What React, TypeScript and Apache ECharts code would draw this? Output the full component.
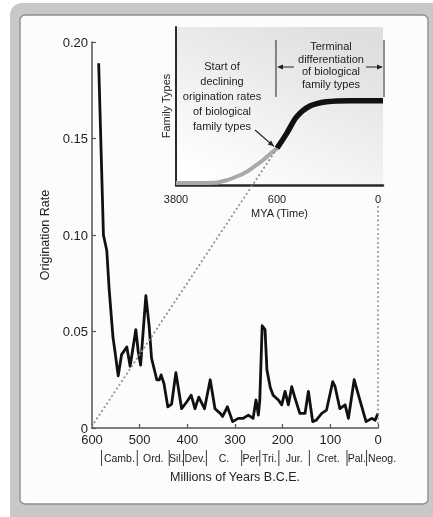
import React, { useEffect, useRef } from "react";
import * as echarts from "echarts";

// ---- Main chart data (origination rate vs. millions of years B.C.E.) ----
const rateYears = [
  586, 576, 569, 564, 556, 552, 545, 538, 527, 520, 508, 503, 498, 487, 480, 475,
  464, 459, 455, 449, 441, 433, 424, 412, 401, 392, 384, 376, 364, 352, 342, 331,
  326, 316, 305, 293, 283, 272, 262, 256, 251, 248, 243, 237, 233, 226, 220, 209,
  202, 195, 188, 181, 174, 164, 153, 146, 137, 130, 118, 108, 95, 90, 80, 69, 62,
  50, 38, 25, 13, 6, 0,
];
const rateValues = [
  0.189, 0.1, 0.092, 0.072, 0.047, 0.04, 0.027, 0.038, 0.042, 0.032, 0.051, 0.0395,
  0.0326, 0.0686, 0.0525, 0.036, 0.025, 0.0249, 0.0275, 0.023, 0.011, 0.0124, 0.0287,
  0.01, 0.0136, 0.017, 0.01, 0.016, 0.01, 0.025, 0.01, 0.0076, 0.006, 0.011, 0.0033,
  0.005, 0.005, 0.0067, 0.005, 0.0145, 0.0067, 0.0145, 0.053, 0.051, 0.03, 0.021,
  0.017, 0.0145, 0.012, 0.019, 0.012, 0.0214, 0.0154, 0.0076, 0.0076, 0.019, 0.0033,
  0.004, 0.0076, 0.0093, 0.024, 0.0214, 0.01, 0.012, 0.005, 0.025, 0.0145, 0.0033,
  0.005, 0.004, 0.0076,
];
const yTicks = [0, 0.05, 0.1, 0.15, 0.2];
const xTicks = [600, 500, 400, 300, 200, 100, 0];

// ---- Geological periods (start boundaries, Ma) ----
const periodNames = ["Camb.", "Ord.", "Sil.", "Dev.", "C.", "Per", "Tri.", "Jur.", "Cret.", "Pal.", "Neog."];
const periodStarts = [580, 505, 438, 408, 360, 286, 248, 208, 144, 65, 24];

// ---- Inset (schematic family-types curve) ----
const insetTickMya = [3800, 600, 0];
const insetEarlyMya = [3800, 2600, 2200, 1800, 1560, 1300, 1035, 800, 600];
const insetEarlyLevel = [0.012, 0.014, 0.03, 0.06, 0.084, 0.12, 0.158, 0.2, 0.232];
const insetLateMya = [600, 542, 483, 404, 305, 166, 0, -30];
const insetLateLevel = [0.232, 0.327, 0.432, 0.5, 0.527, 0.534, 0.534, 0.534];

const FONT = "'Liberation Sans', Arial, Helvetica, sans-serif";
const TEXT = "#222";

const MAIN = { left: 92, top: 42, width: 286, height: 386 };
const INSET = { left: 176, top: 27, width: 207, height: 158 };

// Piecewise (broken) time scale of the inset: 3800..600 and 600..0 get equal room
const myaToU = (t: number) => (t >= 600 ? (3800 - t) / 3200 : 1 + (600 - t) / 600);

function arrowHead(tx: number, ty: number, fx: number, fy: number, len = 6, half = 2.6) {
  const dx = tx - fx;
  const dy = ty - fy;
  const d = Math.hypot(dx, dy) || 1;
  const ux = dx / d;
  const uy = dy / d;
  const bx = tx - ux * len;
  const by = ty - uy * len;
  return [
    [tx, ty],
    [bx - uy * half, by + ux * half],
    [bx + uy * half, by - ux * half],
  ];
}

export default function App() {
  const ref = useRef<HTMLDivElement>(null);

  useEffect(() => {
    const chart = echarts.init(ref.current!, null, { renderer: "svg" });

    const option: any = {
      animation: false,
      backgroundColor: "transparent",
      grid: [
        { ...MAIN, containLabel: false },
        { ...INSET, containLabel: false },
      ],
      xAxis: [
        {
          gridIndex: 0,
          type: "value",
          position: "bottom",
          min: 0,
          max: 600,
          interval: 100,
          inverse: true,
          splitLine: { show: false },
          axisLine: { onZero: false, lineStyle: { color: "#555", width: 1.5 } },
          axisTick: { inside: true, length: 4, lineStyle: { color: "#555", width: 1.2 } },
          axisLabel: {
            color: TEXT,
            fontSize: 13,
            fontFamily: FONT,
            margin: 5,
            formatter: (v: number) => (xTicks.includes(v) ? String(v) : ""),
          },
          name: "Millions of Years B.C.E.",
          nameLocation: "middle",
          nameGap: 42,
          nameTextStyle: { color: TEXT, fontSize: 12.5, fontFamily: FONT },
        },
        {
          gridIndex: 1,
          type: "value",
          position: "bottom",
          min: 0,
          max: myaToU(-30),
          interval: 1,
          splitLine: { show: false },
          axisTick: { show: false },
          axisLine: { onZero: false, lineStyle: { color: "#2a2a2a", width: 2.5 } },
          axisLabel: {
            color: TEXT,
            fontSize: 11,
            fontFamily: FONT,
            margin: 8,
            showMaxLabel: false,
            formatter: (v: number) => {
              const i = insetTickMya.findIndex((t) => Math.abs(myaToU(t) - v) < 1e-6);
              return i >= 0 ? String(insetTickMya[i]) : "";
            },
          },
          name: "MYA (Time)",
          nameLocation: "middle",
          nameGap: 22,
          nameTextStyle: { color: TEXT, fontSize: 11, fontFamily: FONT },
        },
      ],
      yAxis: [
        {
          gridIndex: 0,
          type: "value",
          position: "left",
          min: 0,
          max: 0.2,
          interval: 0.05,
          splitLine: { show: false },
          axisLine: { show: true, onZero: false, lineStyle: { color: "#555", width: 1.5 } },
          axisTick: { show: true, inside: true, length: 4, lineStyle: { color: "#555", width: 1.2 } },
          axisLabel: {
            color: TEXT,
            fontSize: 13,
            fontFamily: FONT,
            margin: 4,
            formatter: (v: number) => {
              const tick = yTicks.find((t) => Math.abs(t - v) < 1e-9);
              if (tick === undefined) return "";
              return tick === 0 ? "0" : tick.toFixed(2);
            },
          },
          name: "Origination Rate",
          nameLocation: "middle",
          nameGap: 37,
          nameTextStyle: { color: TEXT, fontSize: 12.5, fontFamily: FONT },
        },
        {
          gridIndex: 1,
          type: "value",
          position: "left",
          min: 0,
          max: 1,
          splitLine: { show: false },
          axisLine: { show: true, onZero: false, lineStyle: { color: "#2a2a2a", width: 2 } },
          axisTick: { show: false },
          axisLabel: { show: false },
          name: "Family Types",
          nameLocation: "middle",
          nameGap: 5,
          nameTextStyle: { color: TEXT, fontSize: 11, fontFamily: FONT },
        },
      ],
      series: [
        {
          type: "line",
          xAxisIndex: 0,
          yAxisIndex: 0,
          data: rateYears.map((t, i) => [t, rateValues[i]]),
          showSymbol: false,
          symbol: "none",
          lineStyle: { color: "#111", width: 2.8, join: "round" },
          z: 4,
        },
        {
          type: "line",
          xAxisIndex: 1,
          yAxisIndex: 1,
          data: insetEarlyMya.map((t, i) => [myaToU(t), insetEarlyLevel[i]]),
          showSymbol: false,
          symbol: "none",
          smooth: 0.3,
          lineStyle: { color: "#a9a9a9", width: 4 },
          z: 3,
        },
        {
          type: "line",
          xAxisIndex: 1,
          yAxisIndex: 1,
          data: insetLateMya.map((t, i) => [myaToU(t), insetLateLevel[i]]),
          showSymbol: false,
          symbol: "none",
          smooth: 0.3,
          lineStyle: { color: "#111", width: 5.5 },
          z: 4,
        },
      ],
    };

    chart.setOption(option);

    // ---- Annotations positioned through the chart's own scales ----
    const mainOrigin = chart.convertToPixel({ gridIndex: 0 }, [600, 0]) as number[];
    const mainZero = chart.convertToPixel({ gridIndex: 0 }, [0, 0]) as number[];
    const turn = chart.convertToPixel({ gridIndex: 1 }, [
      myaToU(600),
      insetEarlyLevel[insetEarlyLevel.length - 1],
    ]) as number[];
    const insetZero = chart.convertToPixel({ gridIndex: 1 }, [myaToU(0), 0]) as number[];
    const insetRight = INSET.left + INSET.width;

    const dotStyle = {
      stroke: "#8e8e8e",
      lineWidth: 2,
      lineDash: [0.1, 4.4],
      lineCap: "round",
    };

    const g: any[] = [];
    // card frame
    g.push({
      type: "rect",
      z: -100,
      silent: true,
      shape: { x: 10, y: 3, width: 440, height: 530, r: 12 },
      style: { fill: "#c8c8c8" },
    });
    g.push({
      type: "rect",
      z: -99,
      silent: true,
      shape: { x: 20, y: 15, width: 408, height: 489, r: 5 },
      style: { fill: "#fcfcfc", stroke: "#8f8f8f", lineWidth: 1.4 },
    });
    // inset background
    g.push({
      type: "rect",
      z: -98,
      silent: true,
      shape: { x: INSET.left, y: INSET.top, width: INSET.width, height: INSET.height },
      style: {
        fill: new echarts.graphic.LinearGradient(0.2, 1, 0.8, 0, [
          { offset: 0, color: "#ffffff" },
          { offset: 1, color: "#dedede" },
        ]),
      },
    });
    // dotted connectors
    g.push({
      type: "line",
      z: 50,
      silent: true,
      shape: { x1: mainOrigin[0], y1: mainOrigin[1] - 2, x2: turn[0], y2: turn[1] },
      style: dotStyle,
    });
    g.push({
      type: "line",
      z: 50,
      silent: true,
      shape: { x1: mainZero[0], y1: insetZero[1] + 22, x2: mainZero[0], y2: mainZero[1] - 2 },
      style: dotStyle,
    });
    // period boundaries and names
    const rowY = 458;
    const pxOf = (t: number) => (chart.convertToPixel({ gridIndex: 0 }, [t, 0]) as number[])[0];
    periodStarts.forEach((t, i) => {
      const x0 = pxOf(t);
      g.push({
        type: "line",
        z: 50,
        silent: true,
        shape: { x1: x0, y1: rowY - 8, x2: x0, y2: rowY + 8 },
        style: { stroke: "#3a3a3a", lineWidth: 1 },
      });
      const last = i === periodStarts.length - 1;
      const x1 = last ? x0 : pxOf(periodStarts[i + 1]);
      g.push({
        type: "text",
        z: 50,
        silent: true,
        style: {
          text: periodNames[i],
          x: last ? x0 + 1.5 : (x0 + x1) / 2,
          y: rowY,
          textAlign: last ? "left" : "center",
          textVerticalAlign: "middle",
          fontSize: 10.5,
          fontFamily: FONT,
          fill: TEXT,
        },
      });
    });
    // inset annotation texts
    g.push({
      type: "text",
      z: 50,
      silent: true,
      style: {
        text: "Start of\ndeclining\norigination rates\nof biological\nfamily types",
        x: 222,
        y: 96,
        textAlign: "center",
        textVerticalAlign: "middle",
        fontSize: 11,
        lineHeight: 15,
        fontFamily: FONT,
        fill: TEXT,
      },
    });
    g.push({
      type: "text",
      z: 50,
      silent: true,
      style: {
        text: "Terminal\ndifferentiation\nof biological\nfamily types",
        x: 331,
        y: 65,
        textAlign: "center",
        textVerticalAlign: "middle",
        fontSize: 11,
        lineHeight: 12.8,
        fontFamily: FONT,
        fill: TEXT,
      },
    });
    // pointer arrow to the turning point
    const from = [255, 130];
    const tip = [turn[0] - 3, turn[1] - 2];
    g.push({
      type: "line",
      z: 50,
      silent: true,
      shape: { x1: from[0], y1: from[1], x2: tip[0], y2: tip[1] },
      style: { stroke: "#222", lineWidth: 1.2 },
    });
    g.push({
      type: "polygon",
      z: 50,
      silent: true,
      shape: { points: arrowHead(tip[0], tip[1], from[0], from[1]) },
      style: { fill: "#222" },
    });
    // bracket for terminal differentiation
    const bx0 = turn[0] - 1;
    const bx1 = insetRight + 1;
    const bracketStyle = { stroke: "#333", lineWidth: 1.1 };
    g.push({ type: "line", z: 50, silent: true, shape: { x1: bx0, y1: 40, x2: bx0, y2: 97 }, style: bracketStyle });
    g.push({ type: "line", z: 50, silent: true, shape: { x1: bx1, y1: 40, x2: bx1, y2: 97 }, style: bracketStyle });
    const ay = 67;
    g.push({ type: "line", z: 50, silent: true, shape: { x1: bx0 + 18, y1: ay, x2: bx0 + 4, y2: ay }, style: bracketStyle });
    g.push({ type: "polygon", z: 50, silent: true, shape: { points: arrowHead(bx0 + 1, ay, bx0 + 18, ay, 6, 2.4) }, style: { fill: "#222" } });
    g.push({ type: "line", z: 50, silent: true, shape: { x1: bx1 - 18, y1: ay, x2: bx1 - 4, y2: ay }, style: bracketStyle });
    g.push({ type: "polygon", z: 50, silent: true, shape: { points: arrowHead(bx1 - 1, ay, bx1 - 18, ay, 6, 2.4) }, style: { fill: "#222" } });

    chart.setOption({ graphic: { elements: g } });

    return () => chart.dispose();
  }, []);

  return (
    <div
      ref={ref}
      style={{ position: "fixed", left: 0, top: 0, width: 433, height: 517 }}
    />
  );
}
